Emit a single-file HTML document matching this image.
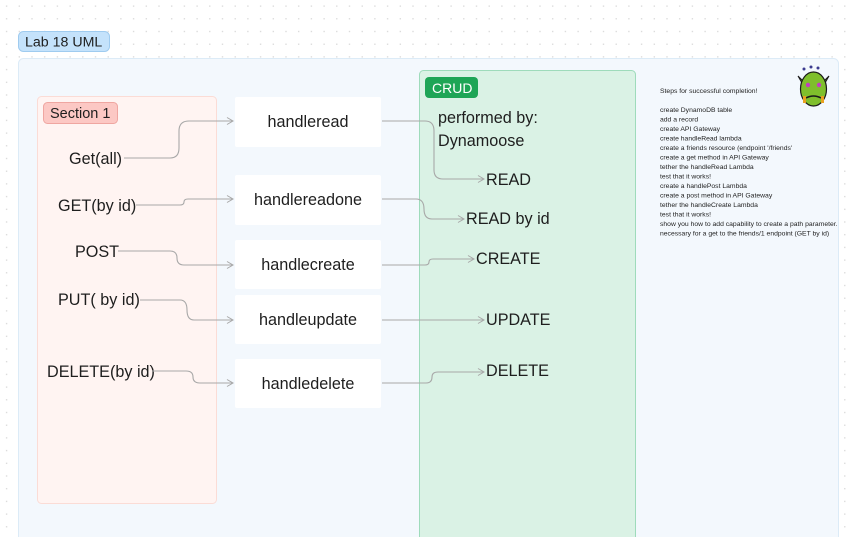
<!DOCTYPE html>
<html><head><meta charset="utf-8"><style>
html,body{margin:0;padding:0;width:848px;height:537px;overflow:hidden;background:#fff}
svg{display:block}
text{font-family:"Liberation Sans",sans-serif;fill:#1e1e1e}
</style></head><body>
<svg width="848" height="537" viewBox="0 0 848 537" xmlns="http://www.w3.org/2000/svg">
<defs>
<pattern id="dots" x="0" y="0" width="12.7" height="12.7" patternUnits="userSpaceOnUse">
<rect x="6" y="5.5" width="1.2" height="1.2" fill="#d0d0d0"/>
</pattern>
<marker id="ar" markerWidth="8" markerHeight="8" refX="7" refY="4" orient="auto" markerUnits="userSpaceOnUse">
<path d="M1,0.5 L7,4 L1,7.5" fill="none" stroke="#a8a8a8" stroke-width="1"/>
</marker>
</defs>
<rect width="848" height="537" fill="url(#dots)"/>
<rect x="18.5" y="58.5" width="820" height="490" rx="5" fill="#f3f8fd" stroke="#dcebf7"/>
<rect x="18.5" y="31.5" width="91" height="20" rx="5" fill="#c4e2fb" stroke="#9fcbef"/>
<text x="25" y="46.5" font-size="14.2">Lab 18 UML</text>

<rect x="37.5" y="96.5" width="179" height="407" rx="4" fill="#fff4f2" stroke="#fbdcd6"/>
<rect x="43.5" y="102.5" width="74" height="21" rx="4" fill="#fcc8c4" stroke="#efa6a1"/>
<text x="50" y="118" font-size="14.5">Section 1</text>

<rect x="419.5" y="70.5" width="216" height="480" rx="4" fill="#daf2e5" stroke="#9edbbb"/>
<rect x="425" y="77" width="53" height="21" rx="4" fill="#1ea556"/>
<text x="432" y="93" font-size="14" style="fill:#fff">CRUD</text>

<g fill="#fff">
<rect x="235" y="97" width="146" height="50" rx="2"/>
<rect x="235" y="175" width="146" height="50" rx="2"/>
<rect x="235" y="240" width="146" height="49" rx="2"/>
<rect x="235" y="295" width="146" height="49" rx="2"/>
<rect x="235" y="359" width="146" height="49" rx="2"/>
</g>
<g font-size="16.2" text-anchor="middle">
<text x="308" y="127">handleread</text>
<text x="308" y="205">handlereadone</text>
<text x="308" y="270">handlecreate</text>
<text x="308" y="325">handleupdate</text>
<text x="308" y="389">handledelete</text>
</g>
<g font-size="16.2">
<text x="69" y="164">Get(all)</text>
<text x="58" y="211">GET(by id)</text>
<text x="75" y="257">POST</text>
<text x="58" y="305">PUT( by id)</text>
<text x="47" y="377">DELETE(by id)</text>
<text x="438" y="123">performed by:</text>
<text x="438" y="146">Dynamoose</text>
<text x="486" y="185">READ</text>
<text x="466" y="224">READ by id</text>
<text x="476" y="264">CREATE</text>
<text x="486" y="325">UPDATE</text>
<text x="486" y="376">DELETE</text>
</g>
<g fill="none" stroke="#a8a8a8" stroke-width="1.1" marker-end="url(#ar)">
<path d="M124,158 H170 Q179,158 179,148 V131 Q179,121 189,121 H233"/>
<path d="M136,205 H180 Q184,205 184,202 Q184,199 188,199 H233"/>
<path d="M118,251 H170 Q177,251 177,258 Q177,265 184,265 H233"/>
<path d="M140,300 H180 Q187,300 187,310 Q187,320 194,320 H233"/>
<path d="M152,371 H186 Q193,371 193,377 Q193,383 200,383 H233"/>
<path d="M382,121 H425 Q434,121 434,131 V170 Q434,179 443,179 H484"/>
<path d="M382,199 H416 Q424,199 424,209 Q424,219 432,219 H464"/>
<path d="M382,265 H425 Q429,265 429,262 Q429,259 433,259 H474"/>
<path d="M382,320 H484"/>
<path d="M382,383 H426 Q432,383 432,377 Q432,372 438,372 H484"/>
</g>

<g font-size="6.8">
<text x="660" y="93">Steps for successful completion!</text>
<text x="660" y="112">create DynamoDB table</text>
<text x="660" y="121.5">add a record</text>
<text x="660" y="131">create API Gateway</text>
<text x="660" y="140.5">create handleRead lambda</text>
<text x="660" y="150">create a friends resource (endpoint '/friends'</text>
<text x="660" y="159.5">create a get method in API Gateway</text>
<text x="660" y="169">tether the handleRead Lambda</text>
<text x="660" y="178.5">test that it works!</text>
<text x="660" y="188">create a handlePost Lambda</text>
<text x="660" y="197.5">create a post method in API Gateway</text>
<text x="660" y="207">tether the handleCreate Lambda</text>
<text x="660" y="216.5">test that it works!</text>
<text x="660" y="226">show you how to add capability to create a path parameter.</text>
<text x="660" y="235.5">necessary for a get to the friends/1 endpoint (GET by id)</text>
</g>
<g>
<path d="M798,76 L805,83 L806,90 Z" fill="#6fae2a" stroke="#1a1a1a"/>
<path d="M829,76 L822,83 L821,90 Z" fill="#6fae2a" stroke="#1a1a1a"/>
<ellipse cx="813.5" cy="89" rx="13" ry="17" fill="#7fbf2c" stroke="#1a1a1a" stroke-width="1.2"/>
<circle cx="808" cy="85" r="2.2" fill="#c040c0"/>
<circle cx="819" cy="85" r="2.2" fill="#c040c0"/>
<path d="M806,98 Q813.5,94 821,98" fill="none" stroke="#1a1a1a" stroke-width="1.5"/>
<rect x="803" y="96" width="3" height="7" fill="#e8a020"/>
<rect x="821" y="96" width="3" height="7" fill="#e8a020"/>
<circle cx="804" cy="69" r="1.5" fill="#3b3b8f"/>
<circle cx="811" cy="67" r="1.5" fill="#3b3b8f"/>
<circle cx="818" cy="68" r="1.5" fill="#3b3b8f"/>
</g>
</svg>
</body></html>
